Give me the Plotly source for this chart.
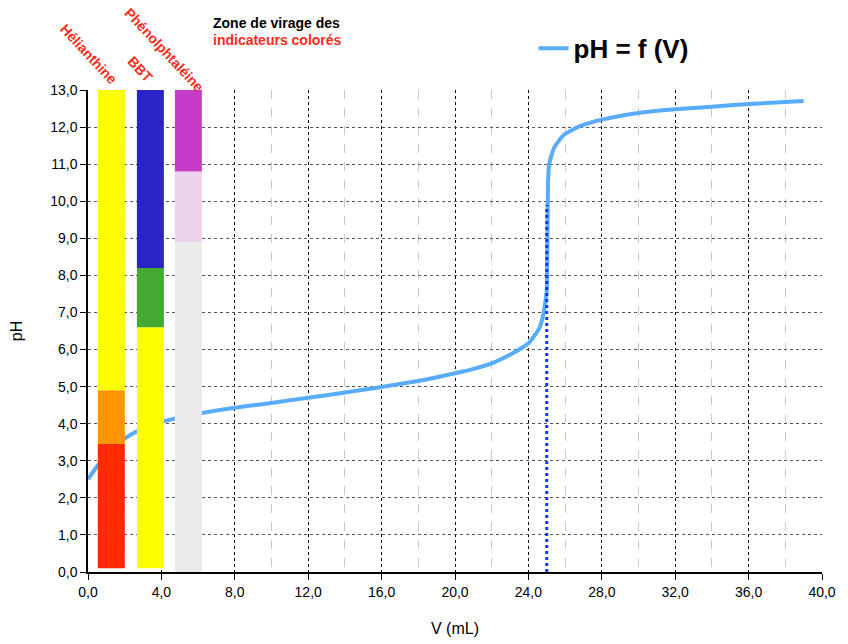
import plotly.graph_objects as go

# titration curve pH = f(V)
volume_ml = [0, 0.5, 1, 2, 3, 4, 6, 8, 10, 12, 14, 16, 18, 20, 21, 22, 23, 23.5,
             24.0, 24.4, 24.6, 24.8, 24.9, 25.0, 25.04, 25.07, 25.13, 25.4, 25.95,
             26.85, 28, 30, 32, 34, 36, 39]
ph_values = [2.5, 2.85, 3.15, 3.6, 3.88, 4.05, 4.27, 4.43, 4.56, 4.7, 4.84, 4.99,
             5.15, 5.36, 5.48, 5.63, 5.86, 6.0, 6.17, 6.42, 6.58, 6.92, 7.2, 7.6,
             9.2, 10.5, 11.0, 11.44, 11.8, 12.03, 12.2, 12.38, 12.48, 12.55,
             12.62, 12.7]

# equivalence volume (dashed line)
v_eq = 25.0
ph_eq_top = 9.9

# colour-change zones of the indicators
indicators = ["Hélianthine", "BBT", "Phénolphtaléine"]
indicator_x = [1.27, 3.4, 5.47]
zone_bottoms = [[0.1, 3.45, 4.9], [0.1, 6.6, 8.2], [0.0, 8.9, 10.8]]
zone_tops = [[3.45, 4.9, 13.0], [6.6, 8.2, 13.0], [8.9, 10.8, 13.0]]
zone_colors = [["#ff2a00", "#ff9500", "#ffff00"],
               ["#ffff00", "#44aa33", "#2a24c4"],
               ["#ebebeb", "#ecd2ea", "#c43cc8"]]

fig = go.Figure()

fig.add_trace(go.Scatter(
    x=volume_ml, y=ph_values, mode="lines", name="pH = f (V)",
    line=dict(color="#58acf9", width=4, shape="spline", smoothing=0.5),
))

fig.add_trace(go.Scatter(
    x=[v_eq, v_eq], y=[0, ph_eq_top], mode="lines", showlegend=False,
    line=dict(color="#0a3cf5", width=3, dash="dot"),
))

# indicator bars drawn on an overlaid axis pair so they sit above the curve
for i, name in enumerate(indicators):
    for bottom, top, color in zip(zone_bottoms[i], zone_tops[i], zone_colors[i]):
        fig.add_trace(go.Bar(
            x=[indicator_x[i]], y=[top - bottom], base=[bottom], width=1.47,
            marker=dict(color=color, line=dict(width=0)),
            xaxis="x2", yaxis="y2", showlegend=False, hoverinfo="skip",
        ))

# label centres in paper coords (plot area: 734 x 482 px)
label_pos = [(0.001, 1.075), (0.071, 1.044), (0.104, 1.083)]
for name, (ax, ay) in zip(indicators, label_pos):
    fig.add_annotation(x=ax, y=ay, xref="paper", yref="paper", text="<b>%s</b>" % name,
                       textangle=47, showarrow=False, xanchor="center", yanchor="middle",
                       font=dict(size=14, color="#ff2a1a"))

fig.add_annotation(x=0.257, y=1.138, xref="paper", yref="paper",
                   text="<b>Zone de virage des</b>", showarrow=False,
                   xanchor="center", yanchor="middle",
                   font=dict(size=14, color="black"))
fig.add_annotation(x=0.258, y=1.103, xref="paper", yref="paper",
                   text="<b>indicateurs colorés</b>", showarrow=False,
                   xanchor="center", yanchor="middle",
                   font=dict(size=14, color="#ff2a1a"))

# page body has an 8px margin, so the figure is 8px smaller and margins shifted
fig.update_layout(
    width=840, height=636,
    margin=dict(l=80, r=26, t=82, b=72),
    paper_bgcolor="white", plot_bgcolor="white",
    font=dict(family="Liberation Sans, Arial, sans-serif", size=14, color="black"),
    separators=", ",
    barmode="overlay",
    showlegend=True,
    legend=dict(x=0.607, y=1.135, xanchor="left", yanchor="top",
                font=dict(size=26, color="black", weight="bold"),
                bgcolor="rgba(0,0,0,0)", itemwidth=30),
    xaxis=dict(
        range=[0, 40], dtick=4, tickformat=".1f", automargin=False,
        showline=True, linecolor="black", linewidth=1.5,
        ticks="outside", ticklen=6, tickcolor="black",
        showgrid=True, gridcolor="black", griddash="dot", gridwidth=1,
        minor=dict(dtick=2, showgrid=True, gridcolor="#c8c8c8", griddash="dash", gridwidth=1),
        zeroline=False,
        title=dict(text="V (mL)", font=dict(size=16), standoff=24),
    ),
    yaxis=dict(
        range=[0, 13], dtick=1, tickformat=".1f", automargin=False,
        showline=True, linecolor="black", linewidth=1.5,
        ticks="outside", ticklen=6, tickcolor="black",
        showgrid=True, gridcolor="#555555", griddash="dot", gridwidth=1,
        zeroline=False,
        title=dict(text="pH", font=dict(size=16), standoff=27),
    ),
    xaxis2=dict(overlaying="x", range=[0, 40], visible=False, matches="x"),
    yaxis2=dict(overlaying="y", range=[0, 13], visible=False, matches="y"),
)

fig.write_html("out.html")
